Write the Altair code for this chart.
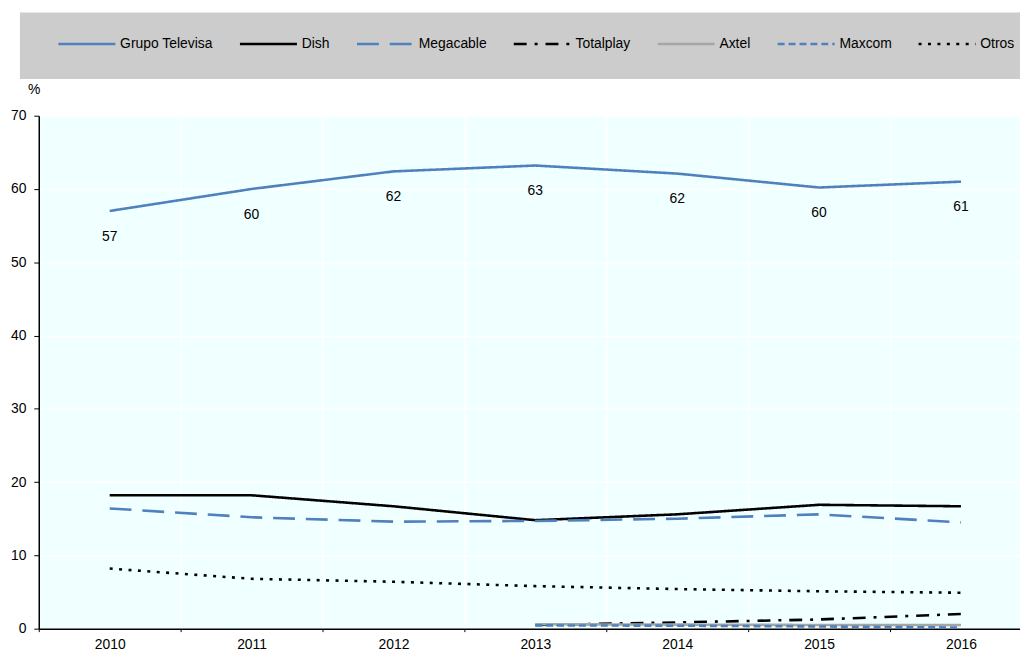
import altair as alt
import pandas as pd

years = [2010, 2011, 2012, 2013, 2014, 2015, 2016]
series_names = ["Grupo Televisa", "Dish", "Megacable", "Totalplay", "Axtel", "Maxcom", "Otros"]
televisa = [57.0, 60.0, 62.4, 63.2, 62.1, 60.2, 61.0]
dish = [18.2, 18.2, 16.7, 14.8, 15.6, 16.9, 16.7]
megacable = [16.4, 15.2, 14.6, 14.7, 15.0, 15.6, 14.5]
totalplay = [None, None, None, 0.5, 0.85, 1.25, 2.0]
axtel = [None, None, None, 0.6, 0.55, 0.5, 0.5]
maxcom = [None, None, None, 0.45, 0.4, 0.3, 0.15]
otros = [8.2, 6.8, 6.4, 5.8, 5.4, 5.1, 4.9]
y_ticks = [0, 10, 20, 30, 40, 50, 60, 70]

colors = ["#4F81BD", "#000000", "#4F81BD", "#000000", "#A6A6A6", "#4F81BD", "#000000"]
dashes = [[1, 0], [1, 0], [22, 11], [13, 8, 3, 8], [1, 0], [7, 4], [3, 6.5]]
widths = [2.6, 2.6, 3, 2.8, 3.2, 2.6, 3.4]

all_values = [televisa, dish, megacable, totalplay, axtel, maxcom, otros]
rows = []
for name, vals in zip(series_names, all_values):
    for yr, v in zip(years, vals):
        if v is not None:
            rows.append({"year": yr, "series": name, "value": v})
df = pd.DataFrame(rows)

FONT = "Liberation Sans"
FS = 14

x_enc = alt.X(
    "year:O",
    scale=alt.Scale(type="band", paddingInner=0, paddingOuter=0, range=[0, 1001]),
    axis=alt.Axis(
        title=None, labelAngle=0, tickBand="extent", grid=True, gridColor="white",
        gridWidth=1.5, domainColor="black", domainWidth=1.5, tickColor="black",
        tickSize=3, labelPadding=6, labelFontSize=FS, labelFont=FONT, labelColor="black",
    ),
)
y_enc = alt.Y(
    "value:Q",
    scale=alt.Scale(domain=[0, 70], nice=False),
    axis=alt.Axis(
        values=y_ticks, grid=True, gridColor="white", gridWidth=1.5,
        domainColor="black", domainWidth=1.5, tickColor="black", tickSize=5,
        labelPadding=8, labelFontSize=FS, labelFont=FONT, labelColor="black",
        title="%", titleAngle=0, titleX=-5, titleY=-26, titleAlign="center",
        titleBaseline="middle", titleFontWeight="normal", titleFontSize=FS, titleFont=FONT,
        titleColor="black",
    ),
)

legend = alt.Legend(
    title=None, orient="none", legendX=18, legendY=-103, direction="horizontal",
    columns=7, symbolType="stroke", symbolSize=3300, symbolStrokeWidth=2.8,
    labelFont=FONT, labelFontSize=FS, labelColor="black", labelOffset=3,
    columnPadding=21, padding=0,
)

bg = alt.Chart(pd.DataFrame({"k": [0]})).mark_rect(color="#CCCCCC").encode(
    x=alt.value(-19), x2=alt.value(1001), y=alt.value(-104), y2=alt.value(-37)
)

lines = alt.Chart(df).mark_line().encode(
    x=x_enc,
    y=y_enc,
    color=alt.Color("series:N", scale=alt.Scale(domain=series_names, range=colors), legend=legend),
    strokeDash=alt.StrokeDash("series:N", scale=alt.Scale(domain=series_names, range=dashes), legend=legend),
    strokeWidth=alt.StrokeWidth("series:N", scale=alt.Scale(domain=series_names, range=widths), legend=None),
)

labels = alt.Chart(df).transform_filter(alt.datum.series == "Grupo Televisa").mark_text(
    dy=26, fontSize=FS, font=FONT, color="black"
).encode(
    x=alt.X("year:O"),
    y=alt.Y("value:Q"),
    text=alt.Text("value:Q", format=".0f"),
)

chart = alt.layer(bg, lines, labels).properties(
    width=989, height=517,
    padding={"left": 31, "top": 106, "right": 0, "bottom": 23},
    autosize=alt.AutoSizeParams(type="none"),
    background="white",
).configure_view(fill="#F0FFFF", stroke=None)

chart.save("out.html", embed_options={"renderer": "svg", "actions": False})
